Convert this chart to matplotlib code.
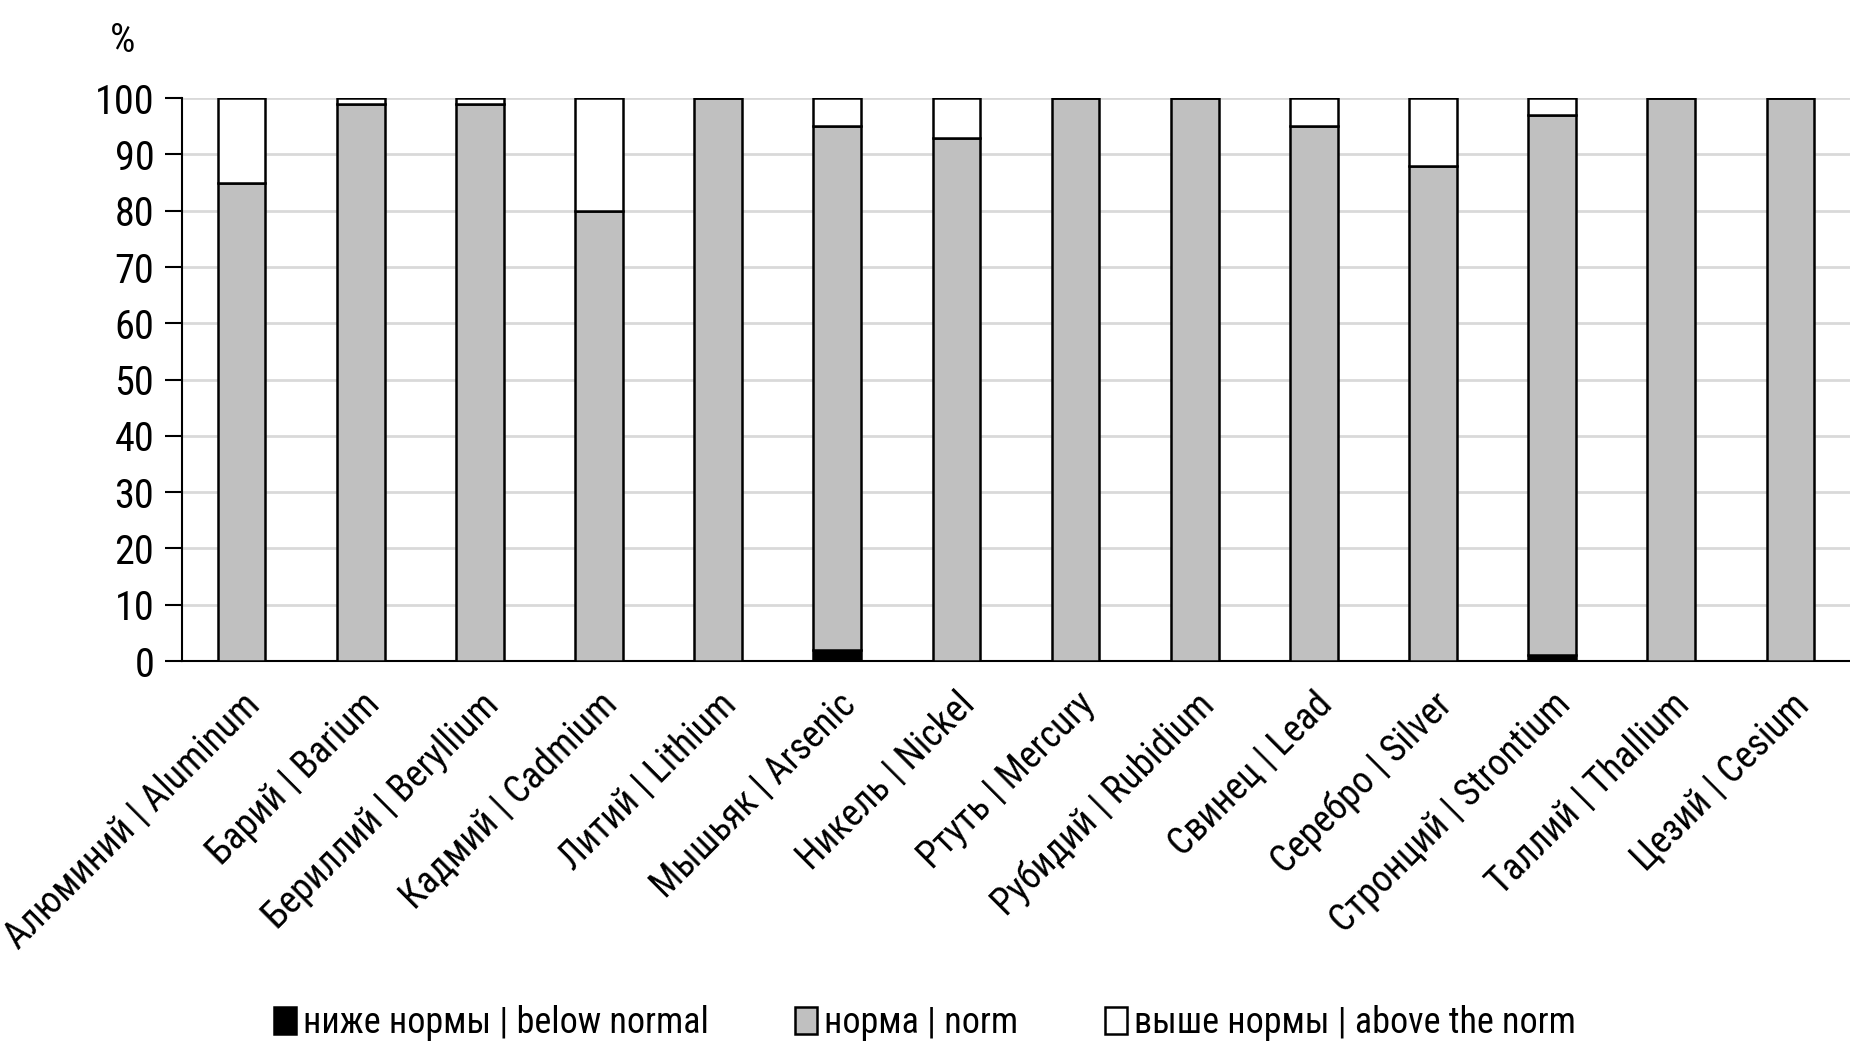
import matplotlib
matplotlib.use("Agg")
import matplotlib.pyplot as plt
import numpy as np
from matplotlib import font_manager

categories = ["Алюминий | Aluminum", "Барий | Barium", "Бериллий | Beryllium",
              "Кадмий | Cadmium", "Литий | Lithium", "Мышьяк | Arsenic",
              "Никель | Nickel", "Ртуть | Mercury", "Рубидий | Rubidium",
              "Свинец | Lead", "Серебро | Silver", "Стронций | Strontium",
              "Таллий | Thallium", "Цезий | Cesium"]
below = [0, 0, 0, 0, 0, 2, 0, 0, 0, 0, 0, 1, 0, 0]
norm = [85, 99, 99, 80, 100, 93, 93, 100, 100, 95, 88, 96, 100, 100]
above = [15, 1, 1, 20, 0, 5, 7, 0, 0, 5, 12, 3, 0, 0]
legend_labels = ["ниже нормы | below normal", "норма | norm", "выше нормы | above the norm"]
yticks = [0, 10, 20, 30, 40, 50, 60, 70, 80, 90, 100]

names = {f.name for f in font_manager.fontManager.ttflist}
fam = [n for n in ["Liberation Sans Narrow", "Arial Narrow", "Roboto Condensed",
                   "Open Sans Condensed", "Liberation Sans"] if n in names] + ["DejaVu Sans"]
plt.rcParams['font.family'] = fam

fig = plt.figure(figsize=(18.5, 10.56), dpi=100)
ax = fig.add_axes([0.0984, 0.374, 0.9016, 0.533])

x = np.arange(len(categories))
w = 0.4
b = np.array(below)
n = np.array(norm)
a = np.array(above)
ax.bar(x, b, w, color="black", edgecolor="black", linewidth=1.8, label=legend_labels[0], zorder=3)
ax.bar(x, n, w, bottom=b, color="#c0c0c0", edgecolor="black", linewidth=1.8, label=legend_labels[1], zorder=3)
ax.bar(x, a, w, bottom=b + n, color="white", edgecolor="black", linewidth=1.8, label=legend_labels[2], zorder=3)

ax.set_xlim(-0.5, 13.5)
ax.set_ylim(0, 100)
ax.set_yticks(yticks)
ax.tick_params(axis='y', labelsize=29, length=12, width=1.5, direction='out', pad=8)
ax.yaxis.grid(True, color="#d9d9d9", linewidth=2, zorder=0)
ax.set_axisbelow(True)
ax.set_xticks(x)
ax.set_xticklabels(categories, rotation=45, ha='right', rotation_mode='anchor', fontsize=27)
ax.tick_params(axis='x', length=0, pad=18)
for s in ["top", "right"]:
    ax.spines[s].set_visible(False)
ax.spines["left"].set_linewidth(1.5)
ax.spines["bottom"].set_linewidth(1.5)

fig.text(123 / 1850, 1 - 40 / 1056, "%", fontsize=29, ha='center', va='center')

leg = fig.legend(loc='center', bbox_to_anchor=(0.5, 1 - 1023 / 1056), ncol=3, frameon=False,
                 fontsize=26, handlelength=0.6, handleheight=0.8, handletextpad=0.2,
                 columnspacing=2.4)

fig.savefig("out.png", dpi=100)
